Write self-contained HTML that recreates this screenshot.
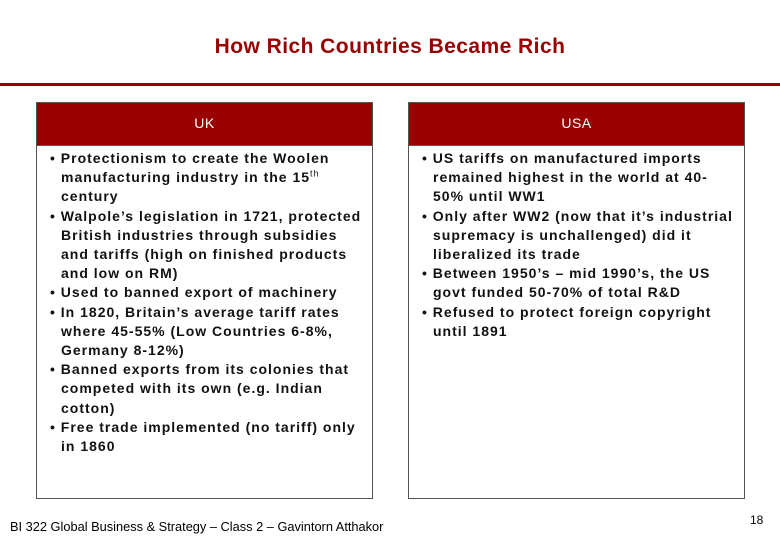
<!DOCTYPE html>
<html><head><meta charset="utf-8"><style>
body{margin:0;width:780px;height:540px;background:#fff;position:relative;overflow:hidden;font-family:"Liberation Sans",Arial,sans-serif}
.title{position:absolute;left:0;width:780px;top:35px;text-align:center;color:#990000;font-size:21px;font-weight:bold;letter-spacing:0.45px}
.rule{position:absolute;left:0;width:780px;top:83px;height:3px;background:#990000}
.box{position:absolute;top:102px;width:335px;height:395px;border:1px solid #555;background:#fff}
.hdr{height:42px;background:#990000;color:#fff;font-size:14px;text-align:center;line-height:40px;border-bottom:1px solid #555;letter-spacing:0.5px}
.body{padding:3px 0 0 13px;font-size:14px;font-weight:bold;letter-spacing:1px;line-height:19.2px;color:#111;white-space:nowrap}
.b{padding-left:11px;text-indent:-11px}
sup{font-size:9px;line-height:0;font-weight:normal}
.foot{position:absolute;left:10px;top:519px;font-family:"Liberation Sans Narrow","Liberation Sans",sans-serif;font-size:12.8px;color:#000}
.pg{position:absolute;left:750px;top:513px;font-family:"Liberation Sans Narrow","Liberation Sans",sans-serif;font-size:12px}
</style></head><body>
<div class="title">How Rich Countries Became Rich</div>
<div class="rule"></div>
<div class="box" style="left:36px">
<div class="hdr">UK</div>
<div class="body">
<div class="b">• Protectionism to create the Woolen<br>manufacturing industry in the 15<sup>th</sup><br>century</div>
<div class="b">• Walpole’s legislation in 1721, protected<br>British industries through subsidies<br>and tariffs (high on finished products<br>and low on RM)</div>
<div class="b">• Used to banned export of machinery</div>
<div class="b">• In 1820, Britain’s average tariff rates<br>where 45-55% (Low Countries 6-8%,<br>Germany 8-12%)</div>
<div class="b">• Banned exports from its colonies that<br>competed with its own (e.g. Indian<br>cotton)</div>
<div class="b">• Free trade implemented (no tariff) only<br>in 1860</div>
</div></div>
<div class="box" style="left:408px">
<div class="hdr">USA</div>
<div class="body">
<div class="b">• US tariffs on manufactured imports<br>remained highest in the world at 40-<br>50% until WW1</div>
<div class="b">• Only after WW2 (now that it’s industrial<br>supremacy is unchallenged) did it<br>liberalized its trade</div>
<div class="b">• Between 1950’s – mid 1990’s, the US<br>govt funded 50-70% of total R&amp;D</div>
<div class="b">• Refused to protect foreign copyright<br>until 1891</div>
</div></div>
<div class="foot">BI 322 Global Business &amp; Strategy – Class 2 – Gavintorn Atthakor</div>
<div class="pg">18</div>
</body></html>
